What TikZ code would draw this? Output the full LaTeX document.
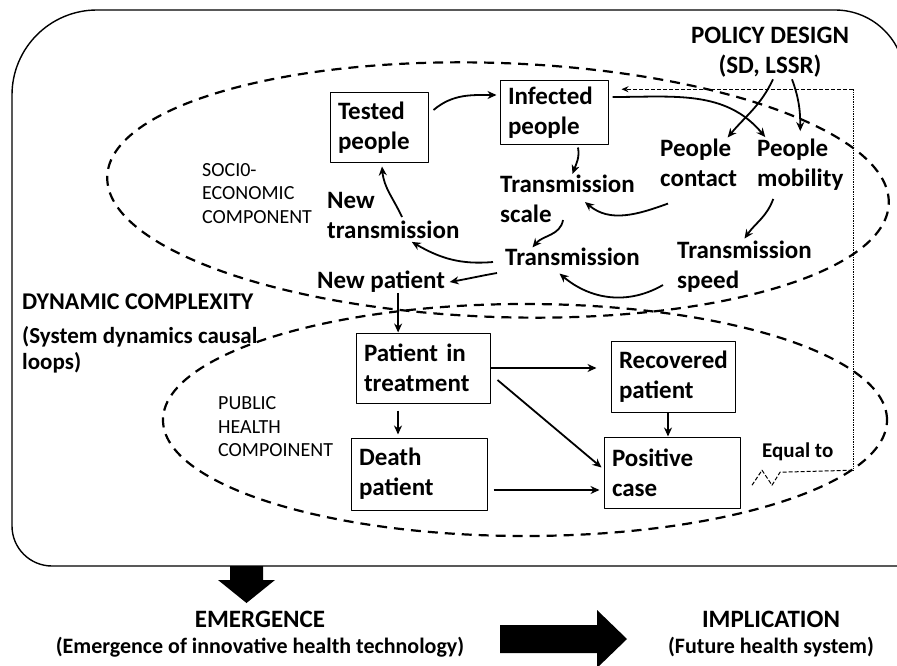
\documentclass[tikz,border=0pt]{standalone}
\usepackage{fontspec}
\setmainfont{Carlito}
\usetikzlibrary{arrows.meta,calc}

\newcommand{\bigfont}{\fontsize{25}{30}\selectfont\bfseries}
\newcommand{\headfont}{\fontsize{24}{28}\selectfont\bfseries}
\newcommand{\partfont}{\fontsize{20}{23.5}\selectfont}
\newcommand{\subfont}{\fontsize{22}{26}\selectfont\bfseries}

\begin{document}
\begin{tikzpicture}[x=1pt,y=1pt,line join=round,
	box/.style={draw,line width=1pt,inner xsep=8pt,inner ysep=0pt,align=left,font=\bigfont},
	lbl/.style={inner sep=0pt,align=left,anchor=west,font=\bigfont},
	part/.style={inner sep=0pt,align=left,anchor=west,font=\partfont},
	head/.style={inner sep=0pt,align=center,font=\headfont},
	arr/.style={line width=1.8pt,-{Stealth[length=9pt,width=8pt]}},
	zone/.style={line width=2.2pt,dash pattern=on 10pt off 7pt},
	eqlink/.style={line width=1pt,dash pattern=on 4pt off 2pt}]
	\useasboundingbox (0,0) rectangle (897,-666);

	% outer system frame
	\draw[line width=1.4pt] (12,-526) -- (12,-95) arc[start angle=180,end angle=90,radius=85]
		-- (835,-10) arc[start angle=90,end angle=0,radius=70] -- (905,-566) -- (52,-566)
		arc[start angle=270,end angle=180,radius=40] -- cycle;

	% the two components
	\draw[zone,rotate around={-2:(498,-190)}] (498,-190) ellipse[x radius=391pt,y radius=127pt];
	\draw[zone] (525,-420) ellipse[x radius=362pt,y radius=116pt];

	% stocks
	\node[box,text width=82pt,minimum height=70pt] (tested) at (379,-128) {Tested\\people};
	\node[box,text width=92pt,minimum height=64pt] (infected) at (554,-113) {Infected\\people};
	\node[box,text width=118pt,minimum height=70pt] (treatment) at (423,-368) {Patient in\\treatment};
	\node[box,text width=108pt,minimum height=71pt] (recovered) at (673,-376.5) {Recovered\\patient};
	\node[box,text width=120pt,minimum height=72pt] (death) at (419,-474) {Death\\patient};
	\node[box,text width=120pt,minimum height=71pt] (positive) at (672,-472.5) {Positive\\case};

	% variables
	\node[lbl] (contact) at (660,-162.5) {People\\contact};
	\node[lbl] (mobility) at (757,-165) {People\\mobility};
	\node[lbl] (scale) at (500,-199) {Transmission\\scale};
	\node[lbl] (newtrans) at (327,-215.5) {New\\transmission};
	\node[lbl] (trans) at (505,-256.5) {Transmission};
	\node[lbl] (speed) at (677,-266.5) {Transmission\\speed};
	\node[lbl] (newpat) at (317,-282) {New patient};

	% captions
	\node[part] (socio) at (202,-193.5) {SOCI0-\\ECONOMIC\\COMPONENT};
	\node[part] (public) at (218,-427) {PUBLIC\\HEALTH\\COMPOINENT};
	\node[head,font=\fontsize{25}{30}\selectfont\bfseries] (policy) at (770,-52) {POLICY DESIGN\\(SD, LSSR)};
	\node[head,anchor=west] (dynamic) at (22,-302) {DYNAMIC COMPLEXITY};
	\node[head,anchor=west,align=left,font=\fontsize{23}{26}\selectfont\bfseries] (causal) at (22,-350) {(System dynamics causal\\loops)};
	\node[inner sep=0pt,anchor=west,font=\fontsize{21}{25}\selectfont\bfseries] (equal) at (762,-452) {Equal to};
	\node[head,font=\fontsize{25}{30}\selectfont\bfseries] (emergence) at (260,-619) {EMERGENCE};
	\node[head,font=\subfont] (emsub) at (260,-647.5) {(Emergence of innovative health technology)};
	\node[head,font=\fontsize{25}{30}\selectfont\bfseries] (implication) at (771,-619) {IMPLICATION};
	\node[head,font=\subfont] (impsub) at (771,-647.5) {(Future health system)};

	% causal loops
	\draw[arr] ([shift={(5,18)}]tested.east) to[out=40,in=180] ([shift={(-3,18)}]infected.west);
	\draw[arr] ([shift={(4,16)}]infected.east) to[out=0,in=130] ([shift={(-35,2)}]mobility.north);
	\draw[arr] ([shift={(3,-2)}]policy.south) to[out=-115,in=50] ([shift={(29,1)}]contact.north);
	\draw[arr] ([shift={(22,-2)}]policy.south) to[out=-70,in=90] ([shift={(0,8)}]mobility.north);
	\draw[arr] ([shift={(24,-2)}]infected.south) to[out=-80,in=70] ([shift={(5,1)}]scale.north);
	\draw[arr] ([shift={(8,-17)}]contact.south west) to[out=200,in=-40] ([shift={(85,-3)}]scale.west);
	\draw[arr] ([shift={(63,-21)}]scale.west) to[out=-100,in=50] ([shift={(-40,0)}]trans.north);
	\draw[arr] ([shift={(-12,-5.5)}]trans.west) to[out=185,in=-30] ([shift={(18.5,-3)}]newtrans.south);
	\draw[arr] ([shift={(-8,-16.5)}]trans.west) to[out=190,in=10] ([shift={(4.5,0)}]newpat.east);
	\draw[arr] ([shift={(-14,-18.5)}]speed.west) to[out=210,in=-40] ([shift={(-13,-8)}]trans.south);
	\draw[arr] ([shift={(-27,-8)}]mobility.south) to[out=-110,in=55] ([shift={(0,2)}]speed.north);
	\draw[arr] ([shift={(75,-1.5)}]newtrans.west) to[out=115,in=-85] ([shift={(3,-3)}]tested.south);

	% patient flow
	\draw[arr] ([xshift=17pt]newpat.south) coordinate (np) -- (np |- treatment.north);
	\draw[arr,shorten >=14pt] (treatment.east) -- (treatment.east -| recovered.west);
	\draw[arr] ([shift={(7,-12)}]treatment.east) -- ([shift={(-2,5)}]positive.west);
	\draw[arr,shorten >=3pt] ([shift={(-25,-7)}]treatment.south) coordinate (t1) -- (t1 |- death.north);
	\draw[arr,shorten >=4pt] ([shift={(6,-16)}]death.east) coordinate (d1) -- (d1 -| positive.west);
	\draw[arr] ([xshift=-5pt]recovered.south) coordinate (r1) -- (r1 |- positive.north);

	% equal-to link back to infected people
	\draw[eqlink] ([shift={(-10,-24)}]equal.south west) -- ++(10,15) -- ++(10,-15) -- ++(8,13) -- ++(73,2) coordinate (c1);
	\draw[densely dotted,line width=0.7pt] (c1) -- ++(0,381) coordinate (c2);
	\draw[eqlink,-{Stealth[length=7pt,width=6pt]},shorten >=13pt] (c2) -- (c2 -| infected.east);

	% block arrows
	\fill (230,-566) -- (263,-566) -- (263,-580) -- (275,-580) -- (246.5,-603) -- (218,-580) -- (230,-580) -- cycle;
	\fill (500,-625) -- (597,-625) -- (597,-610) -- (627,-639) -- (597,-668) -- (597,-653) -- (500,-653) -- cycle;
\end{tikzpicture}
\end{document}
